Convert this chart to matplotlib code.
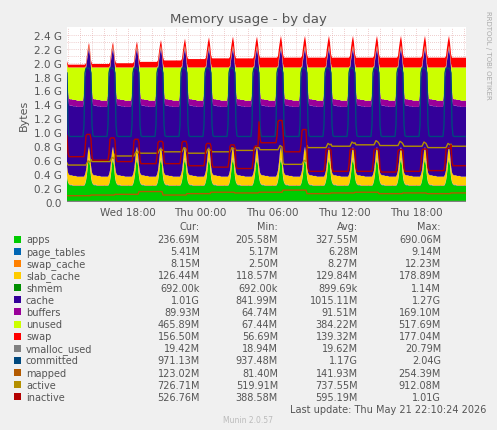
import numpy as np
import matplotlib
matplotlib.use("Agg")
import matplotlib.pyplot as plt

# ---- data (G bytes), 5-minute samples within a 2-hour cycle ----
apps_prof   = [0.36,0.28,0.25,0.24,0.24,0.24,0.23,0.23,0.23,0.23,0.23,0.23,0.23,0.23,0.23,0.23,0.23,0.23,0.25,0.30,0.40,0.55,0.62,0.52]
slab_prof   = [0.15,0.13,0.13,0.13,0.13,0.13,0.13,0.13,0.13,0.13,0.12,0.12,0.12,0.12,0.12,0.12,0.12,0.12,0.13,0.14,0.16,0.16,0.16,0.16]
cache_prof  = [1.40,1.10,1.00,1.00,1.00,1.00,1.00,1.00,1.00,1.00,1.00,1.00,1.00,1.00,1.00,1.00,1.00,1.10,1.40,1.45,1.45,1.40,1.40,1.40]
buf_prof    = [0.04,0.08,0.09,0.09,0.09,0.09,0.09,0.09,0.09,0.09,0.09,0.09,0.09,0.09,0.09,0.09,0.09,0.09,0.05,0.03,0.03,0.03,0.03,0.03]
commit_prof = [1.85,1.10,0.95,0.94,0.94,0.94,0.94,0.94,0.94,0.94,0.94,0.94,0.94,0.94,0.94,0.94,0.94,1.10,1.85,1.92,1.92,1.92,1.92,1.90]
inact_prof  = [0.30,0.05,0.0,0.0,0.0,0.0,0.0,0.0,0.0,0.0,0.0,0.0,0.0,0.0,0.0,0.0,0.0,0.0,0.10,0.30,0.32,0.32,0.32,0.32]
active_prof = [0.03,0.0,0.0,0.0,0.0,0.0,0.0,0.0,0.0,0.0,0.0,0.0,0.0,0.0,0.0,0.0,0.0,0.0,0.0,0.0,0.03,0.06,0.05,0.04]
# per-cycle levels
swap_lvl   = [0.04,0.05,0.06,0.08,0.10,0.12,0.13,0.13,0.14,0.14,0.14,0.14,0.14,0.14,0.14,0.14,0.14]
inact_lvl  = [0.65,0.60,0.58,0.55,0.55,0.52,0.50,0.48,0.85,0.72,0.44,0.44,0.44,0.43,0.44,0.45,0.52]
active_lvl = [0.53,0.58,0.66,0.70,0.72,0.70,0.72,0.74,0.75,0.54,0.78,0.80,0.82,0.81,0.80,0.78,0.80]
mapped_lvl = [0.09,0.10,0.11,0.15,0.10,0.12,0.14,0.13,0.14,0.17,0.12,0.13,0.14,0.12,0.13,0.12,0.13]
unused_top = 1.93
legend_rows = [
    ("apps", "#00CC00", "236.69M", "205.58M", "327.55M", "690.06M"),
    ("page_tables", "#0066B3", "5.41M", "5.17M", "6.28M", "9.14M"),
    ("swap_cache", "#FF8000", "8.15M", "2.50M", "8.27M", "12.23M"),
    ("slab_cache", "#FFCC00", "126.44M", "118.57M", "129.84M", "178.89M"),
    ("shmem", "#008F00", "692.00k", "692.00k", "899.69k", "1.14M"),
    ("cache", "#330099", "1.01G", "841.99M", "1015.11M", "1.27G"),
    ("buffers", "#990099", "89.93M", "64.74M", "91.51M", "169.10M"),
    ("unused", "#CCFF00", "465.89M", "67.44M", "384.22M", "517.69M"),
    ("swap", "#FF0000", "156.50M", "56.69M", "139.32M", "177.04M"),
    ("vmalloc_used", "#808080", "19.42M", "18.94M", "19.62M", "20.79M"),
    ("committed", "#00487D", "971.13M", "937.48M", "1.17G", "2.04G"),
    ("mapped", "#B35A00", "123.02M", "81.40M", "141.93M", "254.39M"),
    ("active", "#B38F00", "726.71M", "519.91M", "737.55M", "912.08M"),
    ("inactive", "#B30000", "526.76M", "388.58M", "595.19M", "1.01G"),
]
xtick_hours = [5.08, 11.08, 17.08, 23.08, 29.08]
xtick_labels = ["Wed 18:00", "Thu 00:00", "Thu 06:00", "Thu 12:00", "Thu 18:00"]

# ---- build series ----
N = 400
ncyc = len(swap_lvl)
t = np.arange(N) * (5 / 60)
def tile(p): return np.tile(np.array(p), ncyc)[:N]
def lvl(l): return np.repeat(np.array(l), 24)[:N]
apps = tile(apps_prof)
pt = np.full(N, 0.005); sc = np.full(N, 0.008); shm = np.full(N, 0.0009)
slab = tile(slab_prof); cache = tile(cache_prof); buf = tile(buf_prof)
below = apps + pt + sc + slab + shm + cache + buf
unused = np.clip(unused_top - below, 0.02, None)
swap = lvl(swap_lvl)
committed = tile(commit_prof)
inactive = lvl(inact_lvl) + tile(inact_prof)
active = lvl(active_lvl) + tile(active_prof)
mapped = lvl(mapped_lvl)
vmalloc = np.full(N, 0.0195)

fig = plt.figure(figsize=(4.97, 4.31), dpi=100, facecolor="#F0F0F0")
ax = fig.add_axes([67/497, 1-203/431, 399/497, 175/431])
ax.set_facecolor("white")
stacks = [apps, pt, sc, slab, shm, cache, buf, unused, swap]
cols = [r[1] for r in legend_rows]
ax.stackplot(t, *stacks, colors=cols[:9], linewidth=0)
for y, c in [(vmalloc, cols[9]), (committed, cols[10]), (mapped, cols[11]), (active, cols[12]), (inactive, cols[13])]:
    ax.plot(t, y, color=c, lw=1.0)
ax.set_xlim(0, t[-1])
ax.set_ylim(0, 2.51)
yt = np.arange(0, 2.41, 0.2)
ax.set_yticks(yt)
ax.set_yticklabels(["0.0"] + [f"{v:.1f} G" for v in yt[1:]], fontsize=7.5, color="#555555")
ax.set_yticks(np.arange(0, 2.5, 0.1), minor=True)
ax.set_xticks(xtick_hours)
ax.set_xticklabels(xtick_labels, fontsize=7.5, color="#555555")
ax.set_xticks(np.arange(0.08, 33.3, 1.0), minor=True)
ax.grid(True, which="both", color="#E0A0A0", ls=(0, (1, 2)), lw=0.5)
ax.set_axisbelow(True)
ax.tick_params(length=0, which="both")
for s in ax.spines.values(): s.set_visible(False)
ax.set_ylabel("Bytes", fontsize=8, color="#555555")
fig.text(248/497, 1-19/431, "Memory usage - by day", ha="center", va="center", fontsize=9.5, color="#555555")
fig.text(488/497, 1-55/431, "RRDTOOL / TOBI OETIKER", rotation=270, ha="center", va="center", fontsize=5, color="#AAAAAA")

fs = 7
def Y(py): return 1 - py / 431
for x, h in [(200, "Cur:"), (278, "Min:"), (358, "Avg:"), (441, "Max:")]:
    fig.text(x/497, Y(227), h, ha="right", va="center", fontsize=fs, color="#555555")
for i, (name, c, cur, mn, avg, mx) in enumerate(legend_rows):
    py = 240 + i * 12.15
    fig.patches.append(plt.Rectangle((14/497, Y(py + 3.5)), 7/497, 7/431, transform=fig.transFigure, facecolor=c, edgecolor="none"))
    fig.text(26/497, Y(py), name, ha="left", va="center", fontsize=fs, color="#555555")
    for x, v in [(200, cur), (278, mn), (358, avg), (441, mx)]:
        fig.text(x/497, Y(py), v, ha="right", va="center", fontsize=fs, color="#555555")
fig.text(486/497, Y(410), "Last update: Thu May 21 22:10:24 2026", ha="right", va="center", fontsize=fs, color="#555555")
fig.text(248/497, Y(421), "Munin 2.0.57", ha="center", va="center", fontsize=5.5, color="#BBBBBB")
fig.savefig("out.png", dpi=100, facecolor=fig.get_facecolor())
